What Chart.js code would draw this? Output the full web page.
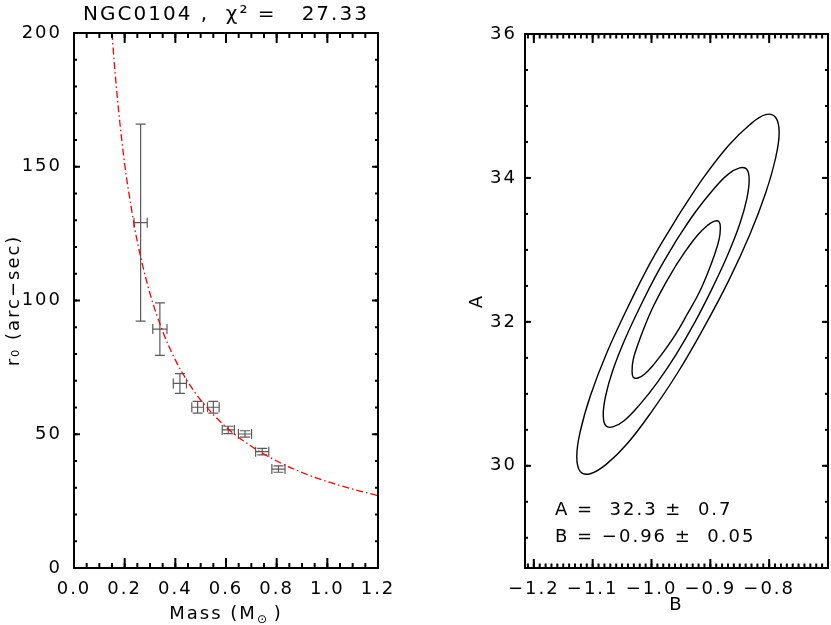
<!DOCTYPE html>
<html>
<head>
<meta charset="utf-8">
<script src="https://cdn.jsdelivr.net/npm/chart.js@4.4.1/dist/chart.umd.min.js"></script>
<style>
  body { margin: 0; background: #fff; }
  #wrap { position: relative; width: 831px; height: 625px; }
  canvas { position: absolute; top: 0; }
</style>
</head>
<body>
<div id="wrap">
  <canvas id="fitChart" width="410" height="625" style="left:0"></canvas>
  <canvas id="contourChart" width="421" height="625" style="left:410px"></canvas>
</div>
<script>
// LEFT PANEL DATA - r0 vs mass
const massVals = [0.263, 0.339, 0.418, 0.488, 0.550, 0.609, 0.675, 0.743, 0.807];
const massErr  = [0.026, 0.028, 0.026, 0.023, 0.023, 0.024, 0.026, 0.026, 0.026];
const r0Vals   = [129.1, 89.3, 69.0, 60.1, 60.1, 51.6, 50.1, 43.5, 37.0];
const r0Err    = [36.8, 9.8, 3.7, 2.2, 2.2, 1.4, 1.2, 1.2, 1.2];

// fitted curve
const fitMass = [0.15, 0.16, 0.175, 0.2, 0.225, 0.25, 0.3, 0.35, 0.4, 0.45, 0.5, 0.6, 0.7, 0.8, 0.9, 1.0, 1.1, 1.2];
const fitR0   = [200, 187.6, 172, 151, 135.3, 122, 102.6, 88.5, 77.8, 69.5, 62.8, 52.7, 45.5, 40.0, 35.7, 32.3, 29.5, 27.1];

const massTicks = [0.0, 0.2, 0.4, 0.6, 0.8, 1.0, 1.2];
const r0Ticks = [0, 50, 100, 150, 200];

// RIGHT PANEL DATA - confidence contours in (B, A)
const outerB = [-0.955, -1.000, -1.041, -1.077, -1.104, -1.121, -1.127, -1.121, -1.104, -1.077, -1.041, -1.000, -0.955, -0.911, -0.869, -0.833, -0.806, -0.789, -0.783, -0.789, -0.806, -0.833, -0.869, -0.911, -0.955];
const outerA = [33.47, 32.85, 32.19, 31.55, 30.97, 30.48, 30.13, 29.92, 29.89, 30.02, 30.31, 30.75, 31.30, 31.92, 32.57, 33.21, 33.79, 34.28, 34.63, 34.84, 34.88, 34.74, 34.45, 34.01, 33.47];
const midB = [-0.958, -0.990, -1.020, -1.046, -1.066, -1.078, -1.082, -1.078, -1.066, -1.046, -1.020, -0.990, -0.958, -0.926, -0.896, -0.870, -0.850, -0.838, -0.834, -0.838, -0.850, -0.870, -0.896, -0.926, -0.958];
const midA = [33.13, 32.68, 32.20, 31.74, 31.32, 30.97, 30.71, 30.56, 30.54, 30.63, 30.85, 31.16, 31.55, 32.00, 32.48, 32.94, 33.36, 33.71, 33.97, 34.12, 34.14, 34.05, 33.83, 33.52, 33.13];
const innerB = [-0.958, -0.978, -0.996, -1.011, -1.023, -1.031, -1.033, -1.031, -1.023, -1.011, -0.996, -0.978, -0.958, -0.939, -0.920, -0.905, -0.893, -0.885, -0.883, -0.885, -0.893, -0.905, -0.920, -0.939, -0.958];
const innerA = [32.79, 32.51, 32.23, 31.95, 31.69, 31.48, 31.32, 31.23, 31.22, 31.28, 31.41, 31.60, 31.84, 32.11, 32.39, 32.67, 32.93, 33.15, 33.30, 33.39, 33.40, 33.34, 33.22, 33.02, 32.79];

const bTicks = [-1.2, -1.1, -1.0, -0.9, -0.8];
const aTicks = [30, 32, 34, 36];
const fitLines = ['A =  32.3 \u00b1  0.7', 'B = \u22120.96 \u00b1  0.05'];
const massTitle = 'Mass (M\u2009\u2009\u2009)';

Chart.defaults.font.family = "'DejaVu Sans', sans-serif";
Chart.defaults.font.size = 18;
Chart.defaults.color = '#000';

function toPoints(xs, ys) {
    return xs.map((v, i) => ({ x: v, y: ys[i] }));
}

function stepList(min, max, step) {
    const out = [];
    const n = Math.round((max - min) / step);
    for (let i = 0; i <= n; i++) out.push(min + i * step);
    return out;
}

function tickPairs(major, minor, len) {
    return major.map(v => [v, len]).concat(minor.map(v => [v, len / 2]));
}

// wider glyph spacing, closer to the IDL lettering
const spacing = {
    id: 'spacing',
    beforeUpdate(chart) { chart.ctx.letterSpacing = '2px'; },
    beforeDraw(chart) { chart.ctx.letterSpacing = '2px'; }
};

// IDL style box with inward ticks on all four sides
function makeFrame(cfg) {
    return {
        id: 'frameTicks',
        afterDraw(chart) {
            const { ctx, chartArea: a } = chart;
            const xs = chart.scales.x, ys = chart.scales.y;
            const w = 2;
            ctx.save();
            ctx.fillStyle = '#000';
            cfg.xTicks.forEach(([v, len]) => {
                const px = xs.getPixelForValue(v);
                ctx.fillRect(px - w / 2, a.bottom - len, w, len);
                ctx.fillRect(px - w / 2, a.top, w, len);
            });
            cfg.yTicks.forEach(([v, len]) => {
                const py = ys.getPixelForValue(v);
                ctx.fillRect(a.left, py - w / 2, len, w);
                ctx.fillRect(a.right - len, py - w / 2, len, w);
            });
            ctx.strokeStyle = '#000';
            ctx.lineWidth = 2;
            ctx.strokeRect(a.left, a.top, a.right - a.left, a.bottom - a.top);
            ctx.restore();
        }
    };
}

const errorBars = {
    id: 'errorBars',
    beforeDatasetsDraw(chart) {
        const { ctx, scales: { x, y } } = chart;
        ctx.save();
        ctx.strokeStyle = '#5a5a5a';
        ctx.lineWidth = 1.2;
        ctx.beginPath();
        massVals.forEach((m, i) => {
            const cx = x.getPixelForValue(m), cy = y.getPixelForValue(r0Vals[i]);
            const x1 = x.getPixelForValue(m - massErr[i]), x2 = x.getPixelForValue(m + massErr[i]);
            const y1 = y.getPixelForValue(r0Vals[i] + r0Err[i]), y2 = y.getPixelForValue(r0Vals[i] - r0Err[i]);
            ctx.moveTo(cx, y1); ctx.lineTo(cx, y2);
            ctx.moveTo(cx - 5, y1); ctx.lineTo(cx + 5, y1);
            ctx.moveTo(cx - 5, y2); ctx.lineTo(cx + 5, y2);
            ctx.moveTo(x1, cy); ctx.lineTo(x2, cy);
            ctx.moveTo(x1, cy - 5); ctx.lineTo(x1, cy + 5);
            ctx.moveTo(x2, cy - 5); ctx.lineTo(x2, cy + 5);
        });
        ctx.stroke();
        ctx.restore();
    }
};

const fitText = {
    id: 'fitText',
    afterDraw(chart) {
        const { ctx, chartArea: a } = chart;
        ctx.save();
        ctx.font = "18px 'DejaVu Sans'";
        ctx.fillStyle = '#000';
        ctx.textBaseline = 'middle';
        ctx.fillText(fitLines[0], a.left + 30, a.bottom - 58);
        ctx.fillText(fitLines[1], a.left + 30, a.bottom - 31);
        ctx.restore();
    }
};

// subscript sun symbol after the M of the mass label
const massSub = {
    id: 'massSub',
    afterDraw(chart) {
        const { ctx, chartArea: a } = chart;
        ctx.save();
        ctx.font = "18px 'DejaVu Sans'";
        ctx.letterSpacing = '2px';
        const full = ctx.measureText(massTitle).width;
        const pre = ctx.measureText('Mass (M').width;
        const x0 = (a.left + a.right) / 2 - full / 2 + pre;
        ctx.font = "12px 'DejaVu Sans'";
        ctx.letterSpacing = '0px';
        ctx.fillStyle = '#000';
        ctx.textAlign = 'left';
        ctx.textBaseline = 'alphabetic';
        ctx.fillText('\u2299', x0, 623);
        ctx.restore();
    }
};

// LEFT PANEL
new Chart(document.getElementById('fitChart'), {
    type: 'scatter',
    data: {
        datasets: [
            { data: toPoints(massVals, r0Vals), pointRadius: 0, showLine: false },
            {
                data: toPoints(fitMass, fitR0),
                showLine: true,
                borderColor: '#ff0000',
                borderWidth: 1.3,
                borderDash: [7, 3, 1.5, 3],
                pointRadius: 0,
                cubicInterpolationMode: 'monotone'
            }
        ]
    },
    options: {
        responsive: false,
        animation: false,
        layout: { padding: { top: 0, right: 32, left: 0, bottom: 0 } },
        plugins: {
            legend: { display: false },
            tooltip: { enabled: false },
            title: {
                display: true,
                text: 'NGC0104 ,  \u03c7\u00b2 =   27.33',
                fullSize: false,
                font: { size: 20, weight: 'normal' },
                color: '#000',
                padding: { top: 3, bottom: 6 }
            }
        },
        scales: {
            x: {
                type: 'linear', min: 0, max: 1.2,
                afterBuildTicks: s => { s.ticks = massTicks.map(v => ({ value: v })); },
                afterFit: s => { s.height = 57; },
                grid: { display: false, drawTicks: false },
                border: { display: false },
                ticks: { padding: 11, callback: v => v.toFixed(1) },
                title: { display: true, text: massTitle, padding: { top: 0, bottom: 0 } }
            },
            y: {
                type: 'linear', min: 0, max: 200,
                afterBuildTicks: s => { s.ticks = r0Ticks.map(v => ({ value: v })); },
                afterFit: s => { s.width = 74; },
                grid: { display: false, drawTicks: false },
                border: { display: false },
                ticks: { padding: 12, callback: v => String(v) },
                title: { display: true, text: 'r\u2080 (arc\u2212sec)', padding: { top: 4, bottom: 0 } }
            }
        }
    },
    plugins: [spacing, errorBars, massSub, makeFrame({
        xTicks: tickPairs(massTicks, stepList(0, 1.2, 0.05), 10),
        yTicks: tickPairs(r0Ticks, stepList(0, 200, 10), 6)
    })]
});

// RIGHT PANEL
const contourStyle = { showLine: true, borderColor: '#000', borderWidth: 1.4, pointRadius: 0, tension: 0.4, fill: false };

new Chart(document.getElementById('contourChart'), {
    type: 'scatter',
    data: {
        datasets: [
            Object.assign({ data: toPoints(outerB, outerA) }, contourStyle),
            Object.assign({ data: toPoints(midB, midA) }, contourStyle),
            Object.assign({ data: toPoints(innerB, innerA) }, contourStyle)
        ]
    },
    options: {
        responsive: false,
        animation: false,
        layout: { padding: { top: 34, right: 3, left: 0, bottom: 0 } },
        plugins: {
            legend: { display: false },
            tooltip: { enabled: false }
        },
        scales: {
            x: {
                type: 'linear', min: -1.215, max: -0.70,
                afterBuildTicks: s => { s.ticks = bTicks.map(v => ({ value: v })); },
                afterFit: s => { s.height = 57; },
                grid: { display: false, drawTicks: false },
                border: { display: false },
                ticks: { padding: 11, callback: v => v.toFixed(1).replace('-', '\u2212') },
                title: { display: true, text: 'B', padding: { top: 0, bottom: 9 } }
            },
            y: {
                type: 'linear', min: 28.58, max: 36.0,
                afterBuildTicks: s => { s.ticks = aTicks.map(v => ({ value: v })); },
                afterFit: s => { s.width = 115; },
                grid: { display: false, drawTicks: false },
                border: { display: false },
                ticks: { padding: 8, callback: v => String(v) },
                title: { display: true, text: 'A', padding: { top: 57, bottom: 0 } }
            }
        }
    },
    plugins: [spacing, fitText, makeFrame({
        xTicks: tickPairs(bTicks, stepList(-1.21, -0.71, 0.01), 9),
        yTicks: tickPairs(aTicks, stepList(29, 35.5, 0.5), 6)
    })]
});
</script>
</body>
</html>
